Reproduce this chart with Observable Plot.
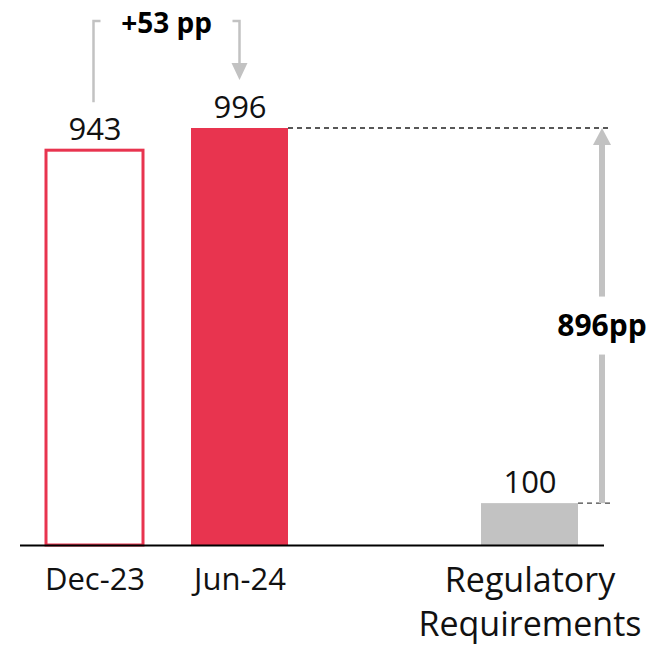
<!DOCTYPE html>
<html>
<head>
<meta charset="utf-8">
<script src="https://cdn.jsdelivr.net/npm/d3@7"></script>
<script src="https://cdn.jsdelivr.net/npm/@observablehq/plot@0.6"></script>
<style>
  html, body { margin: 0; padding: 0; background: #fff; }
  #chart svg { display: block; }
</style>
</head>
<body>
<div id="chart"></div>
<script>
// ---- data ----
const categories = ["Dec-23", "Jun-24", "Regulatory Requirements"];
const values = [943, 996, 100];
const tickLabels = ["Dec-23", "Jun-24", "Regulatory\nRequirements"];
const spacer = " ";

const rows = categories.map((c, i) => ({category: c, value: values[i], label: tickLabels[i]}));
const [dec, jun, reg] = categories;

const RED = "#e8344f";
const GREY = "#c2c2c2";
const FONT = "Open Sans, Noto Sans, sans-serif";

// annotation layer drawn through Plot's own scales
function annotations(index, scales) {
  const {x, y} = scales;
  const bw = x.bandwidth();
  const center = c => x(c) + bw / 2;
  const rightEdge = c => x(c) + bw;
  const [prev, cur, req] = values;
  const g = d3.create("svg:g");

  // dashed guides
  const xEnd = rightEdge(reg) + 33;
  g.append("line")
    .attr("x1", rightEdge(jun)).attr("x2", xEnd)
    .attr("y1", y(cur)).attr("y2", y(cur))
    .attr("stroke", "#222").attr("stroke-width", 1.3).attr("stroke-dasharray", "5,4");
  g.append("line")
    .attr("x1", rightEdge(reg)).attr("x2", xEnd)
    .attr("y1", y(req)).attr("y2", y(req))
    .attr("stroke", "#444").attr("stroke-width", 1.3).attr("stroke-dasharray", "5,4");

  // vertical difference arrow
  const ax = rightEdge(reg) + 24;
  const mid = (y(cur) + y(req)) / 2 + 10;
  g.append("rect").attr("x", ax - 3).attr("width", 6)
    .attr("y", y(cur) + 16).attr("height", (mid - 29) - (y(cur) + 16)).attr("fill", GREY);
  g.append("rect").attr("x", ax - 3).attr("width", 6)
    .attr("y", mid + 29).attr("height", y(req) - (mid + 29)).attr("fill", GREY);
  g.append("polygon")
    .attr("points", `${ax - 9},${y(cur) + 17} ${ax + 9},${y(cur) + 17} ${ax},${y(cur)}`)
    .attr("fill", GREY);
  g.append("text")
    .attr("x", ax).attr("y", mid).attr("dy", "0.35em")
    .attr("text-anchor", "middle").attr("font-family", FONT)
    .attr("font-weight", "bold").attr("font-size", 30).attr("fill", "#000")
    .text(`${cur - req}pp`);

  // bracket between Dec-23 and Jun-24
  const lx = center(dec) - 1;
  const rx = center(jun);
  const yTop = y(cur) - 107;
  g.append("path")
    .attr("d", `M${lx},${y(prev) - 48}V${yTop}H${lx + 7}`)
    .attr("fill", "none").attr("stroke", GREY).attr("stroke-width", 2.5);
  g.append("path")
    .attr("d", `M${rx - 7},${yTop}H${rx}V${y(cur) - 64}`)
    .attr("fill", "none").attr("stroke", GREY).attr("stroke-width", 2.5);
  g.append("polygon")
    .attr("points", `${rx - 8},${y(cur) - 65} ${rx + 8},${y(cur) - 65} ${rx},${y(cur) - 48}`)
    .attr("fill", GREY);
  g.append("text")
    .attr("x", (lx + rx) / 2).attr("y", yTop + 12)
    .attr("text-anchor", "middle").attr("font-family", FONT)
    .attr("font-weight", "bold").attr("font-size", 28).attr("fill", "#000")
    .text(`+${cur - prev} pp`);

  return g.node();
}

const chart = Plot.plot({
  width: 648,
  height: 646,
  marginLeft: 20,
  marginRight: 44,
  marginTop: 0,
  marginBottom: 0,
  style: {fontFamily: FONT, background: "#fff", overflow: "visible"},
  x: {type: "band", domain: [dec, jun, spacer, reg], range: [22.5, 602.5],
      paddingInner: 0.33, paddingOuter: 0.165, axis: null},
  y: {domain: [0, d3.max(values)], range: [545, 128], axis: null},
  marks: [
    Plot.barY(rows.filter(d => d.category === dec), {x: "category", y: "value", fill: "#fff", stroke: RED, strokeWidth: 3}),
    Plot.barY(rows.filter(d => d.category === jun), {x: "category", y: "value", fill: RED}),
    Plot.barY(rows.filter(d => d.category === reg), {x: "category", y: "value", fill: GREY}),
    Plot.ruleY([0], {stroke: "#000", strokeWidth: 2}),
    Plot.text(rows, {x: "category", y: "value", text: d => String(d.value), lineAnchor: "bottom", dy: -11, fontSize: 31, fill: "#111"}),
    Plot.text(rows.filter(d => d.category !== reg), {x: "category", y: () => 0, text: "label", lineAnchor: "top", dy: 22, fontSize: 31, fill: "#111"}),
    Plot.text(rows.filter(d => d.category === reg), {x: "category", y: () => 0, text: "label", lineAnchor: "top", dy: 15, fontSize: 34, lineHeight: 1.3, fill: "#111"}),
    annotations
  ]
});

document.getElementById("chart").appendChild(chart);
</script>
</body>
</html>
